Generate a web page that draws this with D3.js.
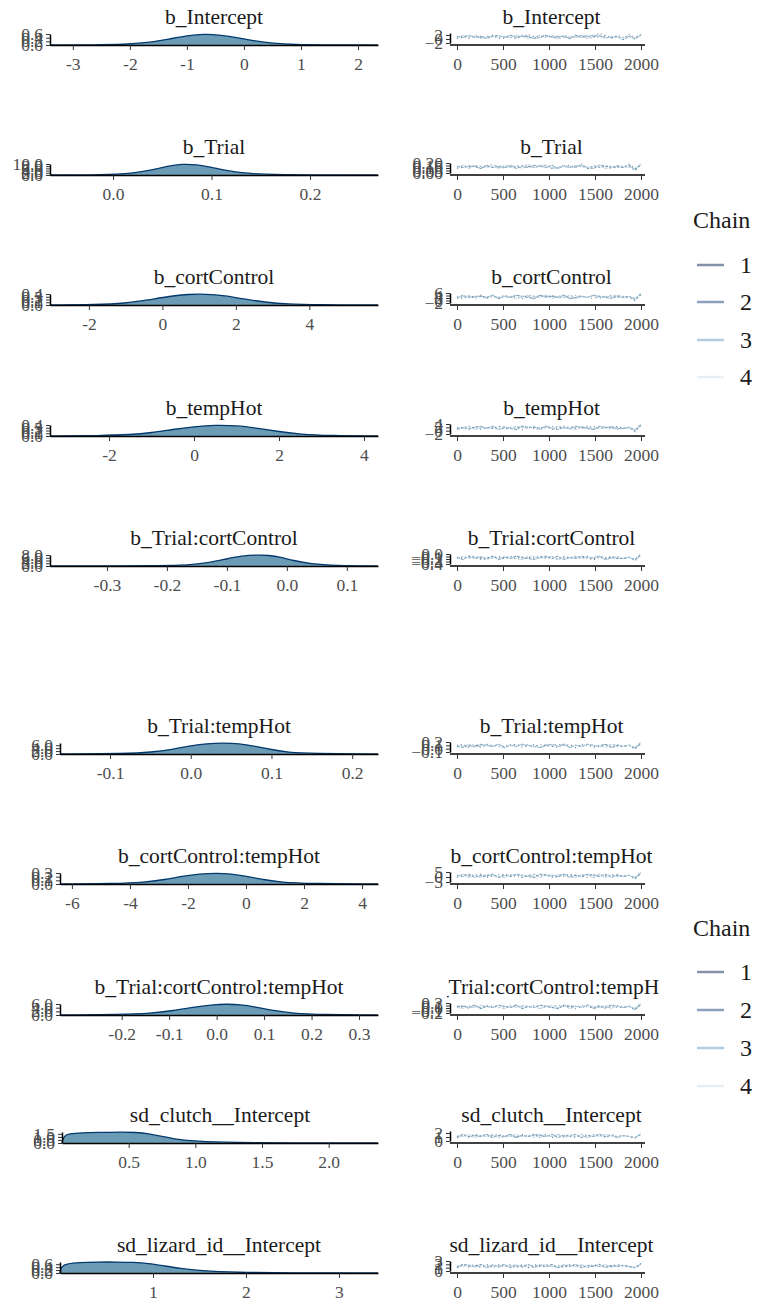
<!DOCTYPE html>
<html><head><meta charset="utf-8">
<script src="https://cdn.jsdelivr.net/npm/d3@7"></script>
<style>body{margin:0;background:#fff}svg{display:block}svg text{font-family:'Times New Roman','Liberation Serif','DejaVu Serif',serif !important}</style>
</head><body><svg id="c" width="759" height="1306"></svg>
<script>
// ---------- data ----------
const params = ["b_Intercept","b_Trial","b_cortControl","b_tempHot","b_Trial:cortControl",
  "b_Trial:tempHot","b_cortControl:tempHot","b_Trial:cortControl:tempHot","sd_clutch__Intercept","sd_lizard_id__Intercept"];
const densDomains = [[-3.4,2.35],[-0.064,0.269],[-3.06,5.87],[-3.39,4.33],[-0.395,0.152],
  [-0.162,0.232],[-6.41,4.55],[-0.33,0.34],[0.0,2.37],[0.0,3.42]];
const densTicks = [[-3,-2,-1,0,1,2],[0.0,0.1,0.2],[-2,0,2,4],[-2,0,2,4],[-0.3,-0.2,-0.1,0.0,0.1],
  [-0.1,0.0,0.1,0.2],[-6,-4,-2,0,2,4],[-0.2,-0.1,0.0,0.1,0.2,0.3],[0.5,1.0,1.5,2.0],[1,2,3]];
const densYMax = [0.6,10,0.4,0.4,8,7.5,0.3,6,1.8,0.75];
const densX = [
 [-3.4,-2.6,-2.1,-1.7,-1.3,-1.0,-0.7,-0.4,-0.1,0.2,0.5,0.9,1.4,2.35],
 [-0.064,-0.01,0.02,0.04,0.055,0.07,0.085,0.1,0.115,0.13,0.15,0.2,0.269],
 [-3.06,-1.8,-1.0,-0.4,0.2,0.7,1.2,1.7,2.2,2.8,3.4,4.2,5.87],
 [-3.39,-2.2,-1.5,-1.0,-0.5,0,0.5,1.0,1.5,2.0,2.5,3.2,4.33],
 [-0.395,-0.2,-0.16,-0.13,-0.1,-0.075,-0.05,-0.03,-0.01,0.01,0.04,0.08,0.152],
 [-0.162,-0.08,-0.05,-0.02,0.0,0.02,0.04,0.06,0.08,0.1,0.12,0.15,0.232],
 [-6.41,-4.5,-3.5,-2.8,-2.2,-1.6,-1.0,-0.5,0.0,0.6,1.2,2.2,4.55],
 [-0.33,-0.2,-0.14,-0.09,-0.05,-0.01,0.02,0.05,0.08,0.12,0.16,0.22,0.34],
 [0.0,0.01,0.05,0.15,0.3,0.45,0.55,0.65,0.75,0.85,1.0,1.3,1.7,2.37],
 [0.0,0.01,0.08,0.2,0.4,0.6,0.8,0.95,1.1,1.3,1.5,1.9,2.5,3.42]];
const densY = [
 [0,0.01,0.05,0.2,0.55,0.85,1,0.9,0.65,0.35,0.15,0.03,0.01,0],
 [0,0.02,0.15,0.45,0.8,1,0.95,0.7,0.4,0.2,0.06,0.01,0],
 [0,0.03,0.15,0.45,0.8,0.98,1,0.85,0.55,0.25,0.08,0.02,0],
 [0,0.03,0.12,0.3,0.6,0.85,1,0.95,0.7,0.4,0.15,0.03,0],
 [0,0.02,0.1,0.3,0.65,0.92,1,0.98,0.8,0.5,0.2,0.04,0],
 [0,0.04,0.15,0.45,0.75,0.95,1,0.95,0.7,0.4,0.15,0.04,0],
 [0,0.03,0.15,0.4,0.7,0.92,1,0.92,0.7,0.4,0.15,0.03,0],
 [0,0.04,0.15,0.4,0.7,0.92,1,0.95,0.75,0.4,0.15,0.03,0],
 [0,0.6,0.85,0.93,0.96,1,0.97,0.85,0.6,0.35,0.15,0.04,0.01,0],
 [0,0.6,0.85,0.95,1,1,0.97,0.88,0.68,0.4,0.2,0.05,0.01,0]];
const traceDomains = [[-2,3],[0.0,0.2],[-2,6],[-2,4],[-0.4,0.0],[-0.1,0.2],[-5,5],[-0.2,0.2],[0,2.5],[0,3]];
const chains = ["1","2","3","4"];
const traceDigits = [
 ["46565574654756657455674596563857","56475665475684766564575657475648","65756467575664575664756765563647","57664575657645765476567574655738"],
 ["56574685657465674576584657465847","46756657465765674567564756655628","65664756574657657465675476565738","57476564756685765465765674576548"],
 ["54657465765476657456765465755647","65746574657564756674565746576529","47566574657654766574565765465638","56657475654676574657465756675649"],
 ["65475657465765467574656756475628","56754657657466574657567465765649","46567574654766575465765476655638","65746564757657465765476565745639"],
 ["65765476574657657465765476655649","56674657567465765476657465765638","64756574657654675746576574655649","57567465765476567465756674575638"],
 ["57465765476657465765476567455638","66574657567465765476657456765649","54657657465765467574657657465638","65746657465765476574657654675649"],
 ["57657465765467574657654766575638","46574657657465765476657465765649","65746574657654766574657657465638","57465765476657465765476574655649"],
 ["65674657657465765476657465775638","57465765476657465765476574655649","66574657657465765476657465765638","54657657465765467574657657465649"],
 ["35465456453645463546453654645436","46354645364546354654365463545437","36454635463546546354635464535436","54635463546453654635463546535437"],
 ["35463546453635464536453645465436","46354635464536546354635463545437","36546354635463546354635463545436","54635463546354654365463546355437"]];

// ---------- layout ----------
const svg = d3.select("#c");
const FONT = "'Times New Roman','Liberation Serif','DejaVu Serif',serif";
const bases = [45,175,305,436,566,754,884,1015,1143,1273];
const densLeft = [50,50,50,50,50,60,60,60,62,60];
const densRight = 378, trL = 450, trR = 645;
const chainColors = ["#011f4b","#03396c","#6497b1","#b3cde0"];
const legendColors = ["#8590aa","#8aa0bb","#b3cde0","#e6eff6"];
const tickCol = "#4d4d4d";
svg.append("defs").append("clipPath").attr("id","tclip").append("rect").attr("x",447).attr("y",0).attr("width",213).attr("height",1306);

function styleAxis(g){
  g.attr("font-family",FONT);
  g.select(".domain").attr("stroke","#000").attr("stroke-width",1.5);
  g.selectAll(".tick line").attr("stroke","#333");
  g.selectAll("text").attr("fill",tickCol).attr("font-size",17.5).attr("font-family",FONT);
}

params.forEach((p,i)=>{
  const b = bases[i];
  const x = d3.scaleLinear().domain(densDomains[i]).range([densLeft[i],densRight]);
  const y = d3.scaleLinear().domain([0,densYMax[i]]).range([b,b-11]);
  const pts = densX[i].map((v,k)=>[v,densY[i][k]*densYMax[i]]);
  svg.append("path").datum(pts)
    .attr("d",d3.area().x(d=>x(d[0])).y0(b).y1(d=>y(d[1])).curve(d3.curveBasis))
    .attr("fill","#6497b1").attr("fill-opacity",0.95);
  svg.append("path").datum(pts)
    .attr("d",d3.line().x(d=>x(d[0])).y(d=>y(d[1])).curve(d3.curveBasis))
    .attr("fill","none").attr("stroke","#03396c").attr("stroke-width",1.3);
  const dec = densTicks[i].some(v=>Math.abs(v%1)>1e-9)?1:0;
  const ax = svg.append("g").attr("transform",`translate(0,${b})`)
    .call(d3.axisBottom(x).tickValues(densTicks[i]).tickSize(5).tickSizeOuter(0)
      .tickFormat(d=>d3.format(`.${dec}f`)(d).replace("−","-")));
  styleAxis(ax); ax.selectAll("text").attr("dy","0.95em");
  const ay = svg.append("g").attr("transform",`translate(${densLeft[i]},0)`)
    .call(d3.axisLeft(y).ticks(4).tickSize(4).tickSizeOuter(0).tickFormat(d=>d3.format(".1f")(d)));
  styleAxis(ay);
  svg.append("text").attr("x",(densLeft[i]+densRight)/2).attr("y",b-21).attr("text-anchor","middle")
    .attr("font-size",21.5).attr("font-family",FONT).attr("fill","#1a1a1a").text(p);

  const tx = d3.scaleLinear().domain([0,2000]).range([457,641]);
  const [lo,hi] = traceDomains[i];
  const ty = d3.scaleLinear().domain([lo,hi]).range([b-2,b-12]);
  traceDigits[i].forEach((s,c)=>{
    const vals = s.split("").map((ch,k,arr)=>[k*2000/(arr.length-1), lo+(+ch)/9*(hi-lo)]);
    svg.append("path").datum(vals)
      .attr("d",d3.line().x(d=>tx(d[0])).y(d=>ty(d[1])))
      .attr("fill","none").attr("stroke",chainColors[c]).attr("stroke-opacity",c<2?0.55:0.8).attr("stroke-width",1.1)
      .attr("stroke-dasharray",c<2?"1,3":"3,1");
  });
  const tax = svg.append("g").attr("transform",`translate(0,${b})`)
    .call(d3.axisBottom(tx).tickValues([0,500,1000,1500,2000]).tickSize(5).tickSizeOuter(0).tickFormat(d3.format("d")));
  styleAxis(tax); tax.selectAll("text").attr("dy","0.95em");
  tax.select(".domain").attr("d",`M${trL},0H${trR}`);
  const tay = svg.append("g").attr("transform",`translate(${trL},0)`)
    .call(d3.axisLeft(ty).ticks(3).tickSize(4).tickSizeOuter(0));
  styleAxis(tay);
  svg.append("text").attr("clip-path","url(#tclip)").attr("x",(trL+trR)/2+4).attr("y",b-21).attr("text-anchor","middle")
    .attr("font-size",21.5).attr("font-family",FONT).attr("fill","#1a1a1a").text(p);
});

[[220,[265,302,340,377]],[928,[972,1010,1048,1086]]].forEach(([ty,ys])=>{
  svg.append("text").attr("x",693).attr("y",ty+8).attr("font-size",24).attr("font-family",FONT).attr("fill","#1a1a1a").text("Chain");
  chains.forEach((c,k)=>{
    svg.append("line").attr("x1",697).attr("x2",724).attr("y1",ys[k]).attr("y2",ys[k])
      .attr("stroke",legendColors[k]).attr("stroke-width",2.5);
    svg.append("text").attr("x",740).attr("y",ys[k]+8).attr("font-size",24).attr("font-family",FONT).attr("fill","#1a1a1a").text(c);
  });
});
</script></body></html>
